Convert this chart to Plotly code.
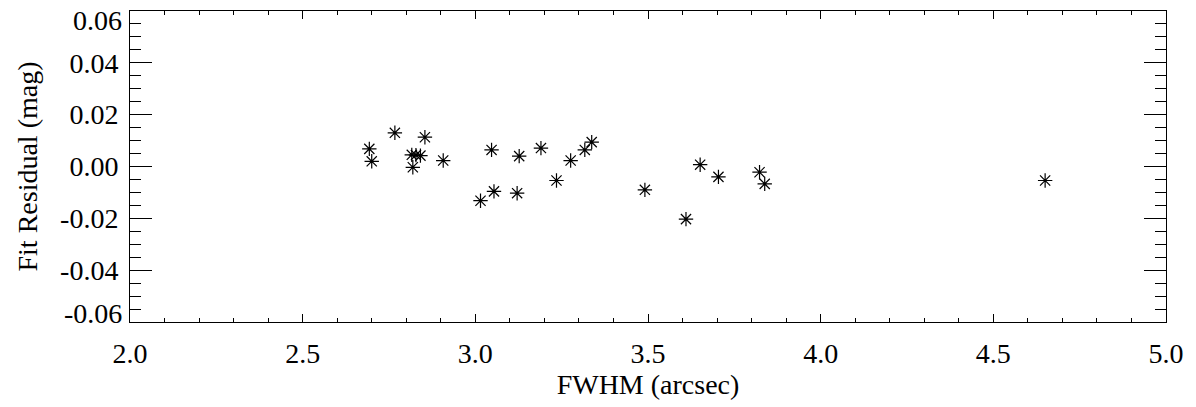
import plotly.graph_objects as go

fwhm = [2.693, 2.700, 2.767, 2.854, 2.816, 2.828, 2.841, 2.819, 2.907, 3.047,
        3.127, 3.190, 3.015, 3.054, 3.121, 3.235, 3.276, 3.317, 3.337, 3.491,
        3.610, 3.651, 3.704, 3.823, 3.838, 4.650]
residual = [0.0068, 0.0020, 0.0130, 0.0113, 0.0045, 0.0044, 0.0042, -0.0003, 0.0023, 0.0064,
            0.0040, 0.0071, -0.0132, -0.0096, -0.0103, -0.0054, 0.0023, 0.0064, 0.0094, -0.0090,
            -0.0203, 0.0007, -0.0040, -0.0022, -0.0067, -0.0054]

x_tickvals = [2.0, 2.5, 3.0, 3.5, 4.0, 4.5, 5.0]
x_ticktext = ["2.0", "2.5", "3.0", "3.5", "4.0", "4.5", "5.0"]
y_tickvals = [-0.04, -0.02, 0.0, 0.02, 0.04]
y_ticktext = ["-0.04", "-0.02", "0.00", "0.02", "0.04"]
# end labels of the y axis (drawn slightly inside the frame, as in the original)
y_end_vals = [-0.06, 0.06]
y_end_text = ["-0.06", "0.06"]

FONT = "Liberation Serif"
tfont = dict(family=FONT, size=28, color="black")

fig = go.Figure()
fig.add_trace(go.Scatter(
    x=fwhm, y=residual, mode="markers",
    marker=dict(symbol="asterisk-open", size=12, color="black",
                line=dict(color="black", width=1.2)),
    showlegend=False,
))

fig.update_layout(
    width=1196, height=407,
    margin=dict(l=130, r=30, t=11, b=85),
    paper_bgcolor="white", plot_bgcolor="white",
    font=tfont,
)

fig.update_xaxes(
    range=[2.0, 5.0], tickvals=x_tickvals, ticktext=x_ticktext, tickfont=tfont,
    ticks="inside", ticklen=8, tickwidth=1, tickcolor="black",
    showline=True, linecolor="black", linewidth=1, mirror="allticks",
    showgrid=False, zeroline=False, ticklabelstandoff=6, automargin=True,
    minor=dict(dtick=0.1, tick0=2.0, ticks="inside", ticklen=4, tickcolor="black", showgrid=False),
    title=dict(text="FWHM (arcsec)", font=tfont, standoff=2),
)
fig.update_yaxes(
    range=[-0.06, 0.06], tickvals=y_tickvals, ticktext=y_ticktext, tickfont=tfont,
    ticks="inside", ticklen=22, tickwidth=1, tickcolor="black",
    showline=True, linecolor="black", linewidth=1, mirror="allticks",
    showgrid=False, zeroline=False, ticklabelstandoff=5, automargin=True,
    minor=dict(dtick=0.005, tick0=0.0, ticks="inside", ticklen=11, tickcolor="black", showgrid=False),
    title=dict(text="Fit Residual (mag)", font=tfont, standoff=14),
)

for v, t, sh in zip(y_end_vals, y_end_text, [9, -9]):
    fig.add_annotation(
        xref="paper", yref="y", x=0, y=v, text=t, showarrow=False,
        xanchor="right", yanchor="middle", xshift=-6, yshift=sh,
        font=tfont,
    )

fig.write_html("out.html")
